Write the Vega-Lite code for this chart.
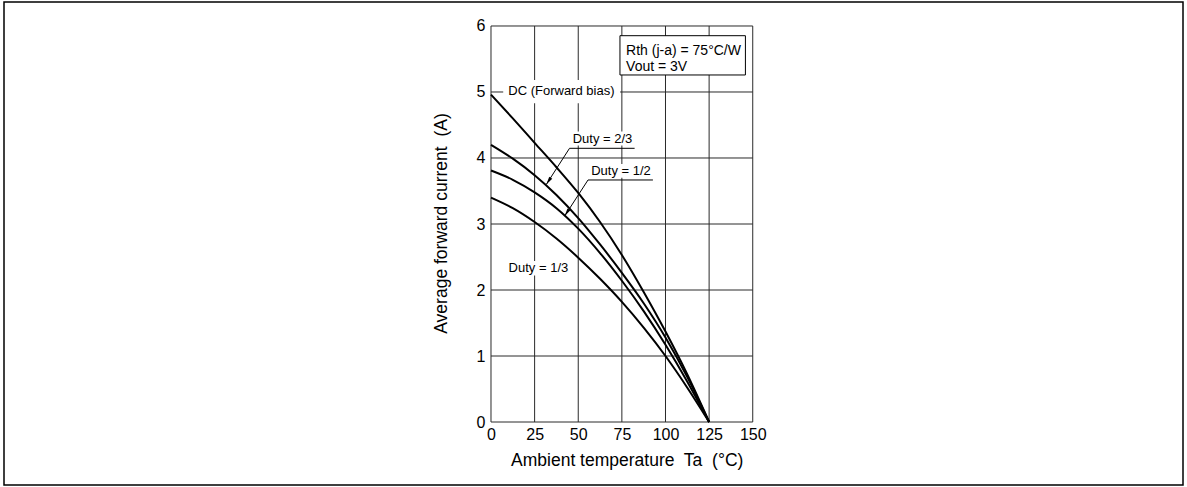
{
  "$schema": "https://vega.github.io/schema/vega-lite/v6.json",
  "width": 1179,
  "height": 483,
  "autosize": {"type": "none"},
  "padding": {"left": 4, "top": 2, "right": 4, "bottom": 2},
  "background": "white",
  "data": {"values": [{}]},
  "config": {
    "view": {"stroke": "black", "strokeWidth": 1.5},
    "font": "Liberation Sans",
    "text": {"font": "Liberation Sans"}
  },
  "datasets": {
    "vgrid": [{"T": 0}, {"T": 25}, {"T": 50}, {"T": 75}, {"T": 100}, {"T": 125}, {"T": 150}],
    "hgrid": [{"A": 0}, {"A": 1}, {"A": 2}, {"A": 3}, {"A": 4}, {"A": 5}, {"A": 6}],
    "curves": [
      {"series": "DC", "T": 0, "A": 4.96}, {"series": "DC", "T": 12.5, "A": 4.60}, {"series": "DC", "T": 25, "A": 4.23},
      {"series": "DC", "T": 37.5, "A": 3.86}, {"series": "DC", "T": 50, "A": 3.47}, {"series": "DC", "T": 62.5, "A": 3.03},
      {"series": "DC", "T": 75, "A": 2.53}, {"series": "DC", "T": 87.5, "A": 1.97}, {"series": "DC", "T": 100, "A": 1.37},
      {"series": "DC", "T": 112.5, "A": 0.72}, {"series": "DC", "T": 125, "A": 0},
      {"series": "2/3", "T": 0, "A": 4.2}, {"series": "2/3", "T": 12.5, "A": 3.99}, {"series": "2/3", "T": 25, "A": 3.74},
      {"series": "2/3", "T": 37.5, "A": 3.44}, {"series": "2/3", "T": 50, "A": 3.09}, {"series": "2/3", "T": 62.5, "A": 2.69},
      {"series": "2/3", "T": 75, "A": 2.26}, {"series": "2/3", "T": 87.5, "A": 1.80}, {"series": "2/3", "T": 100, "A": 1.28},
      {"series": "2/3", "T": 112.5, "A": 0.68}, {"series": "2/3", "T": 125, "A": 0},
      {"series": "1/2", "T": 0, "A": 3.81}, {"series": "1/2", "T": 12.5, "A": 3.67}, {"series": "1/2", "T": 25, "A": 3.48},
      {"series": "1/2", "T": 37.5, "A": 3.24}, {"series": "1/2", "T": 50, "A": 2.93}, {"series": "1/2", "T": 62.5, "A": 2.56},
      {"series": "1/2", "T": 75, "A": 2.14}, {"series": "1/2", "T": 87.5, "A": 1.68}, {"series": "1/2", "T": 100, "A": 1.17},
      {"series": "1/2", "T": 112.5, "A": 0.61}, {"series": "1/2", "T": 125, "A": 0},
      {"series": "1/3", "T": 0, "A": 3.40}, {"series": "1/3", "T": 12.5, "A": 3.24}, {"series": "1/3", "T": 25, "A": 3.03},
      {"series": "1/3", "T": 37.5, "A": 2.78}, {"series": "1/3", "T": 50, "A": 2.49}, {"series": "1/3", "T": 62.5, "A": 2.17},
      {"series": "1/3", "T": 75, "A": 1.82}, {"series": "1/3", "T": 87.5, "A": 1.43}, {"series": "1/3", "T": 100, "A": 1.0},
      {"series": "1/3", "T": 112.5, "A": 0.52}, {"series": "1/3", "T": 125, "A": 0}
    ],
    "leaders": [
      {"g": "2/3", "o": 1, "T": 82.3, "A": 4.147}, {"g": "2/3", "o": 2, "T": 45.0, "A": 4.147}, {"g": "2/3", "o": 3, "T": 31.7, "A": 3.60},
      {"g": "1/2", "o": 1, "T": 92.8, "A": 3.667}, {"g": "1/2", "o": 2, "T": 55.6, "A": 3.667}, {"g": "1/2", "o": 3, "T": 42.2, "A": 3.12}
    ]
  },
  "layer": [
    {
      "data": {"name": "vgrid"},
      "mark": {"type": "rule", "color": "#2a2a2a", "strokeWidth": 1},
      "encoding": {
        "x": {
          "field": "T", "type": "quantitative",
          "scale": {"domain": [-279.08, 396.56], "nice": false, "zero": false},
          "axis": {
            "values": [0, 25, 50, 75, 100, 125, 150], "format": "d", "offset": -63, "domain": false, "ticks": false, "grid": false,
            "labelPadding": 4, "labelFontSize": 16, "labelColor": "black", "labelFlush": false, "labelOverlap": false,
            "labelFont": "Liberation Sans",
            "title": "Ambient temperature\u00a0 Ta\u00a0 (°C)", "titleFont": "Liberation Sans", "titleFontSize": 17.5,
            "titleFontWeight": "normal", "titleColor": "black", "titleX": 622.7, "titleY": 29, "titleBaseline": "top", "titleAlign": "center"
          }
        },
        "y": {"datum": 0, "type": "quantitative", "scale": {"domain": [-0.9545, 6.3636], "nice": false, "zero": false}},
        "y2": {"datum": 6}
      }
    },
    {
      "data": {"name": "hgrid"},
      "mark": {"type": "rule", "color": "#2a2a2a", "strokeWidth": 1},
      "encoding": {
        "y": {
          "field": "A", "type": "quantitative",
          "scale": {"domain": [-0.9545, 6.3636], "nice": false, "zero": false},
          "axis": {
            "values": [0, 1, 2, 3, 4, 5, 6], "format": "d", "offset": -487, "domain": false, "ticks": false, "grid": false,
            "labelPadding": 6, "labelFontSize": 16, "labelColor": "black", "labelFlush": false, "labelOverlap": false,
            "labelFont": "Liberation Sans",
            "title": "Average forward current\u00a0 (A)", "titleFont": "Liberation Sans", "titleFontSize": 17.5,
            "titleFontWeight": "normal", "titleColor": "black", "titleX": -50, "titleY": 221, "titleAngle": 270,
            "titleBaseline": "middle", "titleAlign": "center"
          }
        },
        "x": {"datum": 0, "type": "quantitative", "scale": {"domain": [-279.08, 396.56], "nice": false, "zero": false}},
        "x2": {"datum": 150}
      }
    },
    {
      "mark": {"type": "rect", "fill": "white", "stroke": "black", "strokeWidth": 1},
      "encoding": {
        "x": {"datum": 73.9, "type": "quantitative"}, "x2": {"datum": 145.8},
        "y": {"datum": 5.258, "type": "quantitative"}, "y2": {"datum": 5.853}
      }
    },
    {
      "mark": {"type": "rect", "fill": "white"},
      "encoding": {
        "x": {"datum": 7, "type": "quantitative"}, "x2": {"datum": 74},
        "y": {"datum": 4.83, "type": "quantitative"}, "y2": {"datum": 5.18}
      }
    },
    {
      "mark": {"type": "rect", "fill": "white"},
      "encoding": {
        "x": {"datum": 46, "type": "quantitative"}, "x2": {"datum": 82},
        "y": {"datum": 4.19, "type": "quantitative"}, "y2": {"datum": 4.40}
      }
    },
    {
      "mark": {"type": "rect", "fill": "white"},
      "encoding": {
        "x": {"datum": 56.5, "type": "quantitative"}, "x2": {"datum": 92.5},
        "y": {"datum": 3.70, "type": "quantitative"}, "y2": {"datum": 3.91}
      }
    },
    {
      "mark": {"type": "rect", "fill": "white"},
      "encoding": {
        "x": {"datum": 9, "type": "quantitative"}, "x2": {"datum": 46},
        "y": {"datum": 2.22, "type": "quantitative"}, "y2": {"datum": 2.44}
      }
    },
    {
      "data": {"name": "curves"},
      "mark": {"type": "line", "color": "black", "strokeWidth": 2, "interpolate": "monotone"},
      "encoding": {
        "x": {"field": "T", "type": "quantitative"},
        "y": {"field": "A", "type": "quantitative"},
        "detail": {"field": "series"}
      }
    },
    {
      "data": {"name": "leaders"},
      "mark": {"type": "line", "color": "black", "strokeWidth": 1},
      "encoding": {
        "x": {"field": "T", "type": "quantitative"},
        "y": {"field": "A", "type": "quantitative"},
        "detail": {"field": "g"},
        "order": {"field": "o"}
      }
    },
    {
      "mark": {"type": "point", "shape": "M0,0L0.45,2L-0.45,2Z", "filled": true, "color": "black", "size": 64, "angle": 213.7, "opacity": 1},
      "encoding": {
        "x": {"datum": 31.7, "type": "quantitative"},
        "y": {"datum": 3.60, "type": "quantitative"}
      }
    },
    {
      "mark": {"type": "point", "shape": "M0,0L0.45,2L-0.45,2Z", "filled": true, "color": "black", "size": 64, "angle": 212.7, "opacity": 1},
      "encoding": {
        "x": {"datum": 42.2, "type": "quantitative"},
        "y": {"datum": 3.12, "type": "quantitative"}
      }
    },
    {
      "mark": {"type": "text", "align": "left", "baseline": "middle", "fontSize": 13, "color": "black"},
      "encoding": {
        "x": {"datum": 9.9, "type": "quantitative"},
        "y": {"datum": 5.02, "type": "quantitative"},
        "text": {"value": "DC (Forward bias)"}
      }
    },
    {
      "mark": {"type": "text", "align": "left", "baseline": "middle", "fontSize": 13, "color": "black"},
      "encoding": {
        "x": {"datum": 46.8, "type": "quantitative"},
        "y": {"datum": 4.29, "type": "quantitative"},
        "text": {"value": "Duty = 2/3"}
      }
    },
    {
      "mark": {"type": "text", "align": "left", "baseline": "middle", "fontSize": 13, "color": "black"},
      "encoding": {
        "x": {"datum": 57.4, "type": "quantitative"},
        "y": {"datum": 3.806, "type": "quantitative"},
        "text": {"value": "Duty = 1/2"}
      }
    },
    {
      "mark": {"type": "text", "align": "left", "baseline": "middle", "fontSize": 13, "color": "black"},
      "encoding": {
        "x": {"datum": 10.1, "type": "quantitative"},
        "y": {"datum": 2.33, "type": "quantitative"},
        "text": {"value": "Duty = 1/3"}
      }
    },
    {
      "mark": {"type": "text", "align": "left", "baseline": "middle", "fontSize": 14, "color": "black"},
      "encoding": {
        "x": {"datum": 77.4, "type": "quantitative"},
        "y": {"datum": 5.62, "type": "quantitative"},
        "text": {"value": "Rth (j-a) = 75°C/W"}
      }
    },
    {
      "mark": {"type": "text", "align": "left", "baseline": "middle", "fontSize": 14, "color": "black"},
      "encoding": {
        "x": {"datum": 77.4, "type": "quantitative"},
        "y": {"datum": 5.383, "type": "quantitative"},
        "text": {"value": "Vout = 3V"}
      }
    }
  ]
}
